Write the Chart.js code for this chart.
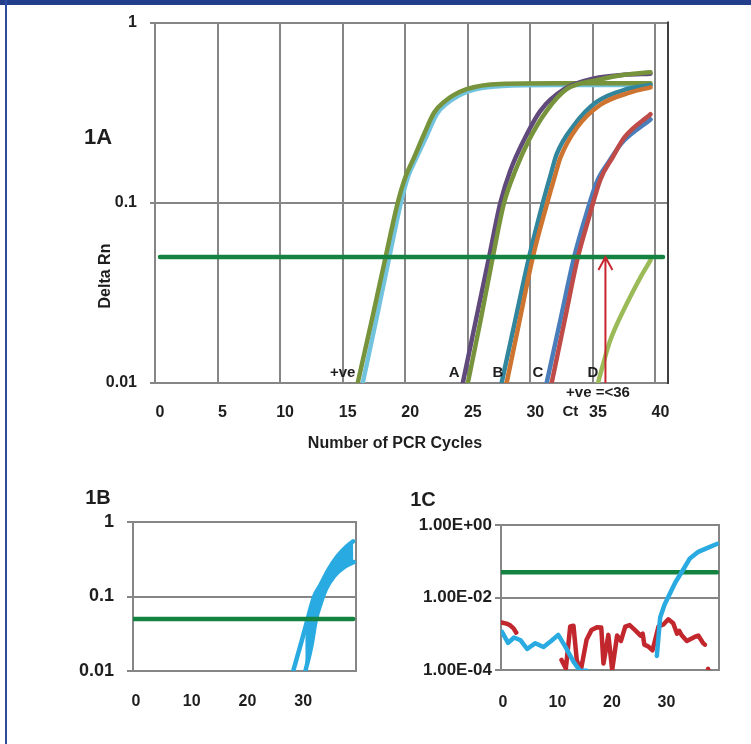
<!DOCTYPE html>
<html>
<head>
<meta charset="utf-8">
<script src="https://cdn.jsdelivr.net/npm/chart.js@4.4.1/dist/chart.umd.min.js"></script>
<style>
  html, body { margin: 0; padding: 0; background: #fff; }
  #page { position: relative; width: 751px; height: 744px; overflow: hidden;
          font-family: "Liberation Sans", Arial, sans-serif; font-weight: bold; color: #1e1e1e; }
  #topbar { position: absolute; left: 0; top: 0; width: 751px; height: 5px; background: #233e8b; }
  #leftbar { position: absolute; left: 5px; top: 0; width: 2px; height: 744px; background: #2d4ca0; }
  canvas { position: absolute; }
  .lbl { position: absolute; white-space: nowrap; line-height: 1; transform: translate(-50%, -50%); }
</style>
</head>
<body>
<div id="page">
  <div id="topbar"></div>
  <div id="leftbar"></div>
  <canvas id="c1a" width="751" height="470" style="left:0;top:0"></canvas>
  <canvas id="c1b" width="375" height="274" style="left:0;top:470px"></canvas>
  <canvas id="c1c" width="376" height="274" style="left:375px;top:470px"></canvas>
  <div class="lbl" style="left:98px;top:137px;font-size:22px">1A</div>
  <div class="lbl" style="left:105px;top:276px;font-size:16px;transform:translate(-50%,-50%) rotate(-90deg)">Delta Rn</div>
  <div class="lbl" style="left:395px;top:443px;font-size:16px">Number of PCR Cycles</div>
  <div class="lbl" style="left:98px;top:497px;font-size:20px">1B</div>
  <div class="lbl" style="left:423px;top:499px;font-size:20px">1C</div>
</div>
<script>
// ---------- data: 1A (amplification plot, log Delta Rn) ----------
const THRESHOLD = 0.05;
const thrX1A = [0.4, 40.6];

const posGreenX = [16.2, 17.3, 18.4, 19.4, 20.0, 20.7, 21.5, 22.3, 23.1, 24.9, 27.6, 32.0, 39.6];
const posGreenY = [0.01, 0.0219, 0.049, 0.1, 0.138, 0.178, 0.24, 0.316, 0.363, 0.427, 0.457, 0.46, 0.46];
const posBlueX  = [16.6, 17.65, 18.7, 19.65, 20.2, 20.9, 21.7, 22.5, 23.3, 25.1, 27.8, 32.0, 39.6];
const posBlueY  = [0.01, 0.0219, 0.049, 0.1, 0.138, 0.178, 0.234, 0.309, 0.355, 0.417, 0.445, 0.45, 0.45];

const aPurpleX = [24.6, 25.65, 26.7, 27.6, 28.4, 29.5, 30.8, 32.7, 35.1, 37.5, 39.6];
const aPurpleY = [0.01, 0.0224, 0.05, 0.1, 0.151, 0.224, 0.324, 0.427, 0.49, 0.513, 0.52];
const aGreenX  = [25.0, 26.0, 27.0, 27.9, 28.8, 29.9, 31.3, 32.9, 35.3, 37.5, 39.6];
const aGreenY  = [0.01, 0.0219, 0.05, 0.1, 0.151, 0.224, 0.324, 0.427, 0.479, 0.513, 0.53];

const bTealX   = [27.7, 28.8, 29.9, 31.0, 31.6, 32.1, 33.5, 35.3, 37.7, 39.6];
const bTealY   = [0.01, 0.0224, 0.05, 0.1, 0.141, 0.186, 0.27, 0.363, 0.427, 0.45];
const bOrangeX = [28.1, 29.15, 30.2, 31.35, 31.9, 32.4, 33.7, 35.6, 38.0, 39.6];
const bOrangeY = [0.01, 0.0224, 0.05, 0.1, 0.136, 0.178, 0.26, 0.35, 0.41, 0.437];

const cBlueX = [31.3, 32.4, 33.5, 34.3, 35.3, 36.3, 37.3, 39.6];
const cBlueY = [0.01, 0.0224, 0.05, 0.079, 0.13, 0.17, 0.215, 0.29];
const cRedX  = [31.7, 32.75, 33.8, 34.6, 35.6, 36.6, 37.5, 39.6];
const cRedY  = [0.01, 0.0224, 0.05, 0.079, 0.135, 0.18, 0.23, 0.31];

const dGreenX = [35.4, 36.3, 36.7, 37.7, 38.8, 39.6];
const dGreenY = [0.01, 0.0166, 0.0196, 0.0275, 0.0386, 0.048];

const xTicks1A = [0, 5, 10, 15, 20, 25, 30, 35, 40];
const yTicks1A = [0.01, 0.1, 1];
const yTickLabels1A = ['0.01', '0.1', '1'];

const curveLabels = ['+ve', 'A', 'B', 'C', 'D'];
const curveLabelX = [15.0, 23.9, 27.4, 30.6, 35.0];
const ctCycle = 36;
const ctNote = '+ve =<36';
const ctNoteX = 35.4;
const ctLabelX = 33.2;

// ---------- data: 1B (replicate band) ----------
const thrX1B = [0, 39.5];
const bandEarlyX = [28.7, 30.3, 31.3, 32.5, 33.6, 35.0, 36.7, 38.3, 39.5];
const bandEarlyY = [0.0098, 0.026, 0.049, 0.1, 0.141, 0.224, 0.347, 0.468, 0.55];
const bandLateX  = [30.9, 32.0, 32.8, 33.7, 34.6, 36.1, 37.9, 39.6];
const bandLateY  = [0.0098, 0.022, 0.049, 0.083, 0.126, 0.19, 0.25, 0.29];
const xTicksSmall = [0, 10, 20, 30];
const yTicks1B = [0.01, 0.1, 1];
const yTickLabels1B = ['0.01', '0.1', '1'];

// ---------- data: 1C (noise + late sample) ----------
const thrX1C = [0, 39.6];
const noiseBlueX = [0.2, 1.3, 2.4, 3.6, 4.8, 6.3, 7.8, 9.2, 10.5, 11.8, 13.3, 14.5, 15.7, 16.5,
                    28.6, 29.2, 30.0, 30.8, 32.0, 33.2, 34.6, 36.2, 37.9, 39.6];
const noiseBlueY = [1.12e-3, 5.6e-4, 7.9e-4, 6.6e-4, 3.8e-4, 5.5e-4, 4.3e-4, 6.3e-4, 9.3e-4, 4.4e-4, 1.7e-4, 9.5e-5, 9.5e-5, null,
                    2.45e-4, 2.8e-3, 6.3e-3, 1.12e-2, 2.63e-2, 5.13e-2, 0.117, 0.182, 0.234, 0.30];
const noiseRedX = [0.1, 1.0, 1.6, 2.3, 2.8, 3.5,
                   11.1, 11.9, 12.7, 13.3, 13.9, 14.6, 15.7, 16.6, 17.6, 18.4, 18.8, 19.7, 20.4, 21.3, 22.0, 22.8,
                   23.6, 24.6, 25.6, 26.0, 26.3, 27.0, 27.8, 28.9, 29.8, 30.7, 31.6, 32.3, 32.7, 33.2, 34.1, 35.6,
                   36.2, 37.1, 37.4, 37.7, 38.0, 38.6];
const noiseRedY = [2.04e-3, 1.9e-3, 1.74e-3, 1.41e-3, 1.07e-3, null,
                   1.9e-4, 1.1e-4, 1.58e-3, 1.66e-3, 1.9e-4, 9e-5, 6.8e-4, 1.26e-3, 1.5e-3, 1.48e-3, 1.5e-4, 9.3e-4, 1e-4, 8.9e-4, 6.3e-4, 1.58e-3,
                   1.74e-3, 1.26e-3, 8.9e-4, 1e-3, 5e-4, 4.5e-4, 3.5e-4, 1.58e-3, 1.8e-3, 2.5e-3, 1.95e-3, 1e-3, 1.2e-3, 8.9e-4, 6.3e-4, 8.3e-4,
                   8.9e-4, 5.5e-4, 5e-4, null, 1.07e-4, 6e-5];
const yTicks1C = [1e-4, 1e-2, 1];
const yTickLabels1C = ['1.00E-04', '1.00E-02', '1.00E+00'];

// ---------- styling ----------
const GRID = '#868686';
const TEXT = '#1e1e1e';
const FONT = '"Liberation Sans", Arial, sans-serif';
const GREEN_THR = '#148241';
const ARROW = '#c8262e';

Chart.defaults.font.family = FONT;
Chart.defaults.font.weight = 'bold';
Chart.defaults.color = TEXT;

const pts = (xs, ys) => xs.map((x, i) => ({ x: x, y: ys[i] }));

function curve(label, xs, ys, color, width, smooth) {
  return {
    label: label, data: pts(xs, ys), borderColor: color, backgroundColor: color,
    borderWidth: width, pointRadius: 0, clip: 0, fill: false,
    cubicInterpolationMode: smooth ? 'monotone' : 'default', tension: 0,
    borderCapStyle: 'round', borderJoinStyle: 'round', spanGaps: false,
  };
}

// right-hand frame of each plot area
const rightEdge = {
  id: 'rightEdge',
  defaults: { color: GRID, width: 2 },
  beforeDatasetsDraw(chart, args, opts) {
    const a = chart.chartArea, ctx = chart.ctx;
    ctx.save();
    ctx.strokeStyle = opts.color;
    ctx.lineWidth = opts.width;
    ctx.beginPath();
    ctx.moveTo(a.right, a.top - 1);
    ctx.lineTo(a.right, a.bottom + 1);
    ctx.stroke();
    ctx.restore();
  },
};
Chart.register(rightEdge);

// curve names, Ct note and arrow in 1A
const pcrNotes = {
  id: 'pcrNotes',
  afterDatasetsDraw(chart) {
    const ctx = chart.ctx, x = chart.scales.x, y = chart.scales.y;
    const base = y.getPixelForValue(yTicks1A[0]);
    ctx.save();
    ctx.font = 'bold 15px ' + FONT;
    ctx.fillStyle = TEXT;
    ctx.textAlign = 'center';
    ctx.textBaseline = 'middle';
    curveLabels.forEach((t, i) => ctx.fillText(t, x.getPixelForValue(curveLabelX[i]), base - 10));
    ctx.fillText(ctNote, x.getPixelForValue(ctNoteX), base + 10);
    ctx.fillText('Ct', x.getPixelForValue(ctLabelX), base + 29);
    const ax = x.getPixelForValue(ctCycle), top = y.getPixelForValue(THRESHOLD);
    ctx.strokeStyle = ARROW;
    ctx.lineWidth = 2;
    ctx.beginPath();
    ctx.moveTo(ax, base);
    ctx.lineTo(ax, top);
    ctx.moveTo(ax - 7, top + 13);
    ctx.lineTo(ax, top);
    ctx.lineTo(ax + 7, top + 13);
    ctx.stroke();
    ctx.restore();
  },
};

function baseOptions(o) {
  return {
    responsive: false,
    animation: false,
    events: [],
    layout: { padding: o.padding },
    plugins: { legend: { display: false }, tooltip: { enabled: false }, rightEdge: { color: o.edge } },
    scales: {
      x: {
        type: 'linear', min: 0, max: o.xMax,
        afterBuildTicks: (ax) => { ax.ticks = o.xTicks.map((v) => ({ value: v })); },
        ticks: { autoSkip: false, maxRotation: 0, labelOffset: o.xOffset, padding: o.xPad,
                 font: { size: o.xFont, weight: 'bold' }, color: TEXT, callback: (v) => String(v) },
        grid: { display: o.xGrid, color: GRID, lineWidth: 2, drawTicks: false },
        border: { display: o.xGrid, color: GRID, width: 2 },
        afterFit: (ax) => { ax.height = o.xHeight; },
      },
      y: {
        type: 'logarithmic', min: o.yTicks[0], max: o.yTicks[o.yTicks.length - 1],
        afterBuildTicks: (ax) => { ax.ticks = o.yTicks.map((v) => ({ value: v })); },
        ticks: { padding: o.yPad, font: { size: o.yFont, weight: 'bold' }, color: TEXT,
                 callback: (v) => o.yLabels[o.yTicks.indexOf(v)] },
        grid: { color: GRID, lineWidth: 2, drawTicks: true, tickLength: o.tickLen },
        border: { color: GRID, width: 2 },
        afterFit: (ax) => { ax.width = o.yWidth; },
      },
    },
  };
}

// ---------- 1A ----------
new Chart(document.getElementById('c1a'), {
  type: 'line',
  data: {
    datasets: [
      curve('Threshold', thrX1A, [THRESHOLD, THRESHOLD], GREEN_THR, 4.5, false),
      curve('D', dGreenX, dGreenY, '#9bbb59', 4.5, true),
      curve('C red', cRedX, cRedY, '#be4b48', 4.5, true),
      curve('C blue', cBlueX, cBlueY, '#4a7ebb', 4.5, true),
      curve('B orange', bOrangeX, bOrangeY, '#cd7430', 4.5, true),
      curve('B teal', bTealX, bTealY, '#31859c', 4.5, true),
      curve('A green', aGreenX, aGreenY, '#77933c', 4.5, true),
      curve('A purple', aPurpleX, aPurpleY, '#604a7b', 4.5, true),
      curve('+ve green', posGreenX, posGreenY, '#77933c', 4.5, true),
      curve('+ve blue', posBlueX, posBlueY, '#72c3dd', 4.5, true),
    ],
  },
  options: baseOptions({
    padding: { left: 0, top: 21, right: 83, bottom: 0 }, edge: '#3f3f3f',
    xMax: 41, xTicks: xTicks1A, xOffset: 5, xPad: 20, xFont: 16, xGrid: true, xHeight: 87,
    yTicks: yTicks1A, yLabels: yTickLabels1A, yPad: 13, yFont: 16, tickLen: 5, yWidth: 155,
  }),
  plugins: [pcrNotes],
});

// ---------- 1B ----------
new Chart(document.getElementById('c1b'), {
  type: 'line',
  data: {
    datasets: [
      curve('Threshold', thrX1B, [THRESHOLD, THRESHOLD], GREEN_THR, 4.5, false),
      curve('Replicates early', bandEarlyX, bandEarlyY, '#29abe2', 4.5, true),
      Object.assign(curve('Replicates late', bandLateX, bandLateY, '#29abe2', 4.5, true), { fill: '-1' }),
    ],
  },
  options: baseOptions({
    padding: { left: 0, top: 52, right: 19, bottom: 0 }, edge: GRID,
    xMax: 40, xTicks: xTicksSmall, xOffset: 3, xPad: 21, xFont: 16, xGrid: false, xHeight: 73,
    yTicks: yTicks1B, yLabels: yTickLabels1B, yPad: 13, yFont: 18, tickLen: 6, yWidth: 133,
  }),
});

// ---------- 1C ----------
new Chart(document.getElementById('c1c'), {
  type: 'line',
  data: {
    datasets: [
      curve('Sample', noiseBlueX, noiseBlueY, '#29abe2', 4.5, false),
      curve('Threshold', thrX1C, [THRESHOLD, THRESHOLD], GREEN_THR, 4.5, false),
      curve('Negative', noiseRedX, noiseRedY, '#c1272d', 4.5, false),
    ],
  },
  options: baseOptions({
    padding: { left: 0, top: 55, right: 32, bottom: 0 }, edge: GRID,
    xMax: 40, xTicks: xTicksSmall, xOffset: 2, xPad: 23, xFont: 16, xGrid: false, xHeight: 74,
    yTicks: yTicks1C, yLabels: yTickLabels1C, yPad: 3, yFont: 17, tickLen: 6, yWidth: 126,
  }),
});
</script>
</body>
</html>
